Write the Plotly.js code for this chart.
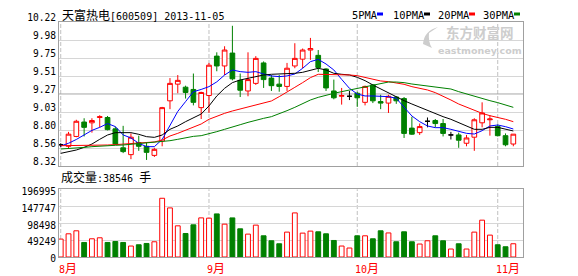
<!DOCTYPE html>
<html><head><meta charset="utf-8">
<script src="https://cdn.plot.ly/plotly-3.0.1.min.js"></script>
<style>html,body{margin:0;padding:0;background:#fff;}#chart{width:578px;height:276px;}</style>
</head><body><div id="chart"></div>
<script>
// ---------------- data ----------------
const stockName = '天富热电';
const stockCode = '600509';
const asOf = '2013-11-05';
const dates = [
 '2013-08-06','2013-08-07','2013-08-08','2013-08-09','2013-08-12','2013-08-13','2013-08-14','2013-08-15','2013-08-16',
 '2013-08-19','2013-08-20','2013-08-21','2013-08-22','2013-08-23','2013-08-26','2013-08-27','2013-08-28','2013-08-29','2013-08-30',
 '2013-09-02','2013-09-03','2013-09-04','2013-09-05','2013-09-06','2013-09-09','2013-09-10','2013-09-11','2013-09-12','2013-09-13',
 '2013-09-16','2013-09-17','2013-09-18','2013-09-23','2013-09-24','2013-09-25','2013-09-26','2013-09-27','2013-09-30',
 '2013-10-08','2013-10-09','2013-10-10','2013-10-11','2013-10-14','2013-10-15','2013-10-16','2013-10-17','2013-10-18',
 '2013-10-21','2013-10-22','2013-10-23','2013-10-24','2013-10-25','2013-10-28','2013-10-29','2013-10-30','2013-10-31',
 '2013-11-01','2013-11-04','2013-11-05'];
const open  = [8.60,8.58,8.71,8.90,8.89,8.96,8.96,8.81,8.56,8.47, 8.63,8.58,8.46,8.65,9.18,9.40,9.36,9.33,9.09,9.25,
               9.77,9.64,9.81,9.45,9.31,9.41,9.68,9.48,9.40,9.37, 9.64,9.73,9.85,9.78,9.60,9.31,9.24,9.24,9.28,9.16,
               9.39,9.17,9.15,9.23,9.21,8.82,8.76,8.91,8.92,8.88, 8.73,8.73,8.62,8.70,8.89,8.93,8.84,8.72,8.61];
const high  = [8.62,8.77,8.93,8.95,8.95,8.99,8.98,8.84,8.85,8.75, 8.72,8.63,8.56,9.10,9.48,9.52,9.38,9.54,9.30,9.68,
               9.82,9.90,10.17,9.54,9.82,9.77,9.70,9.52,9.52,9.68, 9.94,9.87,10.01,9.85,9.61,9.46,9.35,9.31,9.30,9.38,
               9.40,9.26,9.26,9.24,9.23,8.97,8.88,8.96,8.94,8.94, 8.77,8.76,8.73,8.95,9.16,8.99,8.87,8.75,8.74];
const low   = [8.57,8.55,8.70,8.71,8.76,8.83,8.79,8.60,8.49,8.41, 8.52,8.40,8.44,8.58,9.07,9.28,9.21,9.12,8.94,9.02,
               9.57,9.52,9.45,9.23,9.24,9.39,9.35,9.31,9.30,9.31, 9.61,9.61,9.72,9.56,9.31,9.20,9.13,9.19,9.10,9.12,
               9.15,9.07,9.02,9.14,8.69,8.73,8.73,8.83,8.83,8.71, 8.67,8.56,8.58,8.52,8.83,8.72,8.71,8.58,8.58];
const close = [8.60,8.74,8.91,8.83,8.92,8.97,8.80,8.61,8.51,8.70, 8.58,8.50,8.54,9.09,9.41,9.45,9.29,9.16,9.29,9.65,
               9.64,9.85,9.47,9.32,9.46,9.74,9.46,9.38,9.37,9.61, 9.74,9.85,9.87,9.62,9.35,9.22,9.25,9.24,9.22,9.37,
               9.18,9.15,9.24,9.18,8.75,8.74,8.84,8.91,8.88,8.75, 8.73,8.66,8.69,8.93,9.02,8.94,8.72,8.60,8.74];
const volume = [52150,67500,76200,42300,53000,55900,42300,45200,42300,31900, 35600,39400,44300,170900,142800,90700,68400,93600,113800,113000,
                125400,95600,113800,82000,66600,92700,61700,47200,38500,72400, 128300,69500,75300,73300,67500,48100,31900,26100,61700,61700,
                53000,76200,70000,44300,73300,44300,37700,47200,61700,47200, 23200,38500,23200,72400,107200,63700,35600,29800,38546];
const ma5  = [8.584,8.62,8.67,8.73,8.79,8.83,8.88,8.84,8.73,8.69, 8.62,8.575,8.575,8.67,8.85,9.04,9.17,9.30,9.33,9.367,
              9.43,9.52,9.587,9.565,9.556,9.565,9.534,9.508,9.499,9.508, 9.534,9.609,9.697,9.727,9.666,9.587,9.463,9.345,9.27,9.244,
              9.244,9.235,9.235,9.213,9.094,8.98,8.905,8.848,8.826,8.826, 8.804,8.782,8.751,8.742,8.786,8.848,8.861,8.839,8.808];
const ma10 = [8.487,8.505,8.531,8.566,8.61,8.672,8.729,8.76,8.764,8.76, 8.738,8.707,8.698,8.729,8.804,8.848,8.905,8.958,9.006,9.112,
              9.244,9.345,9.42,9.455,9.477,9.499,9.521,9.53,9.534,9.538, 9.543,9.556,9.587,9.609,9.587,9.543,9.53,9.521,9.49,9.446,
              9.389,9.336,9.279,9.235,9.182,9.138,9.094,9.059,9.015,8.971, 8.936,8.892,8.848,8.804,8.804,8.83,8.83,8.804,8.782];
const ma20 = [8.588,8.588,8.588,8.588,8.593,8.593,8.597,8.602,8.61,8.619, 8.624,8.628,8.637,8.663,8.716,8.751,8.795,8.839,8.874,8.936,
              8.98,9.015,9.046,9.072,9.094,9.12,9.147,9.178,9.235,9.301, 9.358,9.42,9.486,9.53,9.53,9.53,9.53,9.521,9.512,9.49,
              9.464,9.442,9.433,9.42,9.398,9.367,9.345,9.323,9.288,9.244, 9.191,9.138,9.094,9.059,9.015,8.984,8.962,8.936,8.905];
const ma30 = [8.544,8.549,8.558,8.566,8.575,8.584,8.588,8.593,8.597,8.606, 8.61,8.619,8.628,8.641,8.654,8.672,8.694,8.711,8.72,8.742,
              8.773,8.804,8.839,8.865,8.896,8.927,8.949,8.971,9.006,9.05, 9.094,9.147,9.191,9.226,9.257,9.279,9.301,9.323,9.345,9.367,
              9.389,9.411,9.428,9.428,9.42,9.402,9.389,9.38,9.371,9.358, 9.336,9.301,9.27,9.235,9.204,9.182,9.156,9.125,9.094];
const maNames  = ['5PMA','10PMA','20PMA','30PMA'];
const maColors = ['#0000ff','#000000','#ff0000','#008000'];
const priceTickLabels = ['8.32','8.56','8.80','9.03','9.27','9.51','9.75','9.98','10.22'];
const volTickLabels   = ['0','49249','98498','147747','196995'];
const volLabel = '成交量';
const volUnit = '手';
const monthSuffix = '月';
const watermarkCn = '东方财富网';
const watermarkEn = 'eastmoney.com';

// ---------------- style ----------------
const RED = '#ff0000', GREEN = '#008000', FRAME = '#a0a0a0', GRID = '#d6d6d6', WM = '#cdcdcd';
const MONO = 'DejaVu Sans Mono, Noto Sans CJK SC';
const CJK = (s, size) => `<span style="font-family:'Noto Sans CJK SC';font-size:${size || 12}px">${s}</span>`;
const L = 59, T = 22, W = 464, H = 235;
const pxX = px => (px - L) / W;
const pxY = py => (T + H - py) / H;

const idx = dates.map((_, i) => i);
const pMin = +priceTickLabels[0], pMax = +priceTickLabels[priceTickLabels.length - 1];
const priceTickVals = priceTickLabels.map((_, k) => pMin + k * (pMax - pMin) / (priceTickLabels.length - 1));
const volTickVals = volTickLabels.map(Number);

function candles(ids, lineColor, fill) {
  const s = {line: {color: lineColor, width: 1}, fillcolor: fill};
  return {type: 'candlestick', xaxis: 'x', yaxis: 'y', x: ids,
    open: ids.map(i => open[i]), high: ids.map(i => high[i]), low: ids.map(i => low[i]), close: ids.map(i => close[i]),
    increasing: s, decreasing: s, whiskerwidth: 0, hoverinfo: 'skip', showlegend: false};
}
const upI = idx.filter(i => close[i] > open[i]);
const dnI = idx.filter(i => close[i] < open[i]);
const djI = idx.filter(i => close[i] === open[i]);

const traces = [
  candles(upI, RED, '#ffffff'),
  candles(dnI, GREEN, GREEN),
  candles(djI, '#000000', '#000000'),
];
[ma5, ma10, ma20, ma30].forEach((m, k) => traces.push({type: 'scatter', mode: 'lines', xaxis: 'x', yaxis: 'y', x: idx, y: m,
  line: {color: maColors[k], width: 1}, hoverinfo: 'skip', showlegend: false}));
traces.push({type: 'bar', xaxis: 'x2', yaxis: 'y2', x: idx, y: volume, width: 0.62,
  marker: {color: idx.map(i => close[i] >= open[i] ? '#ffffff' : GREEN),
           line: {color: idx.map(i => close[i] >= open[i] ? RED : GREEN), width: 1}},
  hoverinfo: 'skip', showlegend: false});

// month starts
const monthStarts = idx.filter(i => i === 0 || dates[i].slice(5, 7) !== dates[i - 1].slice(5, 7));

const shapes = [];
monthStarts.forEach(m => {
  ['y domain', 'y2 domain'].forEach((yr, k) => shapes.push({type: 'line', xref: k ? 'x2' : 'x', yref: yr, x0: m, x1: m, y0: 0, y1: 1,
    line: {color: '#c0c0c0', width: 1, dash: '4px,2px'}, layer: 'below'}));
});
shapes.push({type: 'line', xref: 'x domain', yref: 'y', x0: 0, x1: 1, y0: priceTickVals[4], y1: priceTickVals[4],
  line: {color: FRAME, width: 1}, layer: 'below'});
// legend swatches
const swatchX = [377, 424, 469, 514];
swatchX.forEach((sx, k) => shapes.push({type: 'rect', xref: 'paper', yref: 'paper',
  x0: pxX(sx), x1: pxX(sx + 6), y0: pxY(15.5), y1: pxY(12.5), fillcolor: maColors[k], line: {width: 0}}));
// watermark swoosh
const sw = [[438,27],[424,31],[423,44],[432,48],[428,42],[429,33]];
shapes.push({type: 'path', xref: 'paper', yref: 'paper', fillcolor: WM, line: {width: 0},
  path: `M${pxX(sw[0][0])},${pxY(sw[0][1])} Q${pxX(sw[1][0])},${pxY(sw[1][1])} ${pxX(sw[2][0])},${pxY(sw[2][1])} ` +
        `L${pxX(sw[3][0])},${pxY(sw[3][1])} Q${pxX(sw[4][0])},${pxY(sw[4][1])} ${pxX(sw[5][0])},${pxY(sw[5][1])} Z`});

const annotations = [];
annotations.push({xref: 'paper', yref: 'paper', x: pxX(60), y: pxY(14.5), xanchor: 'left', yanchor: 'middle', showarrow: false,
  text: CJK(stockName) + `[${stockCode}] ${asOf}`, font: {family: MONO, size: 10, color: '#000'}});
const legX = [350, 391, 436, 481];
maNames.forEach((n, k) => annotations.push({xref: 'paper', yref: 'paper', x: pxX(legX[k]), y: pxY(14.5), xanchor: 'left', yanchor: 'middle',
  showarrow: false, text: n, font: {family: MONO, size: 10.4, color: '#000'}}));
annotations.push({xref: 'paper', yref: 'paper', x: pxX(59), y: pxY(176.5), xanchor: 'left', yanchor: 'middle', showarrow: false,
  text: CJK(volLabel) + ':' + volume[volume.length - 1] + ' ' + CJK(volUnit), font: {family: MONO, size: 10, color: '#000'}});
monthStarts.forEach(m => annotations.push({xref: 'x2', yref: 'paper', x: m, y: pxY(267), xanchor: 'left', yanchor: 'middle', xshift: -4,
  showarrow: false, text: String(+dates[m].slice(5, 7)) + CJK(monthSuffix), font: {family: MONO, size: 10, color: RED}}));
// watermark (one text block, two lines)
annotations.push({xref: 'paper', yref: 'paper', x: pxX(480), y: pxY(39), xanchor: 'center', yanchor: 'middle', showarrow: false,
  borderpad: 0,
  text: `<b><span style="font-family:'Noto Sans CJK SC';font-size:13.5px">${watermarkCn}</span></b><br>` +
        `<b><span style="font-family:'DejaVu Sans';font-size:9.5px">${watermarkEn}</span></b>`,
  font: {family: 'DejaVu Sans', size: 12, color: WM}});

const axisBase = {showline: true, mirror: true, linecolor: FRAME, linewidth: 1, zeroline: false, ticks: '', fixedrange: true};
const layout = {
  width: 578, height: 276, margin: {l: L, r: 578 - L - W, t: T, b: 276 - T - H, pad: 0},
  paper_bgcolor: '#ffffff', plot_bgcolor: '#ffffff', showlegend: false,
  boxgap: 0.4, boxgroupgap: 0,
  font: {family: MONO, size: 10, color: '#000'},
  xaxis: Object.assign({}, axisBase, {anchor: 'y', domain: [0, 1], range: [-0.22, dates.length + 0.24], showgrid: false,
    showticklabels: false, rangeslider: {visible: false}}),
  xaxis2: Object.assign({}, axisBase, {anchor: 'y2', domain: [0, 1], matches: 'x', showgrid: false, showticklabels: false}),
  yaxis: Object.assign({}, axisBase, {anchor: 'x', domain: [pxY(166), 1], range: [pMin, pMax], tickvals: priceTickVals,
    ticktext: priceTickLabels, showgrid: true, gridcolor: GRID, gridwidth: 1, ticklabelshift: -4, ticklabelstandoff: 0,
    tickfont: {family: MONO, size: 9.6, color: '#000'}}),
  yaxis2: Object.assign({}, axisBase, {anchor: 'x2', domain: [0, pxY(189.3)], range: [0, volTickVals[volTickVals.length - 1]],
    tickvals: volTickVals, ticktext: volTickLabels, showgrid: true, gridcolor: GRID, gridwidth: 1, ticklabelshift: 2, ticklabelstandoff: 0,
    tickfont: {family: MONO, size: 9.6, color: '#000'}}),
  shapes: shapes, annotations: annotations,
};
Plotly.newPlot('chart', traces, layout, {staticPlot: true, displayModeBar: false});
</script></body></html>
